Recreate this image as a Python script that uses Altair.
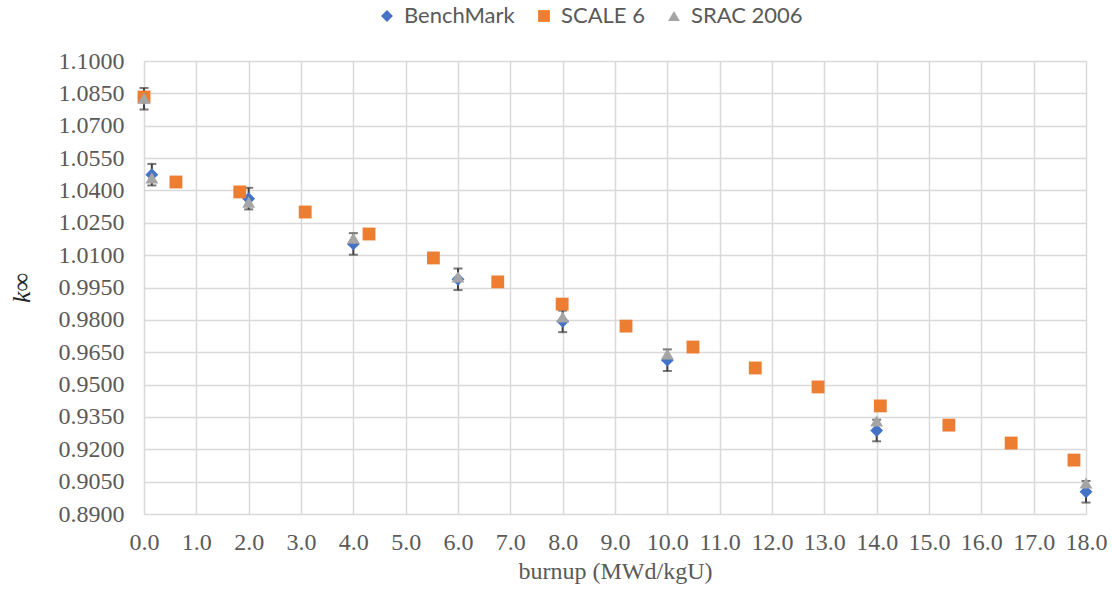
import altair as alt
import pandas as pd

# ---- data ----
bench_x = [0.0, 0.15, 2.0, 4.0, 6.0, 8.0, 10.0, 14.0, 18.0]
bench_y = [1.0825, 1.0473, 1.0362, 1.0152, 0.9988, 0.9793, 0.9613, 0.9287, 0.9003]
bench_err = [0.005, 0.005, 0.005, 0.005, 0.005, 0.005, 0.005, 0.005, 0.005]

scale_x = [0.0, 0.61, 1.83, 3.08, 4.30, 5.53, 6.76, 7.99, 9.21, 10.49, 11.68, 12.88, 14.07, 15.38, 16.57, 17.77]
scale_y = [1.0833, 1.0439, 1.0393, 1.0300, 1.0198, 1.0087, 0.9976, 0.9873, 0.9771, 0.9674, 0.9577, 0.9489, 0.9401, 0.9312, 0.9229, 0.9150]

srac_x = [0.0, 0.15, 2.0, 4.0, 6.0, 8.0, 10.0, 14.0, 18.0]
srac_y = [1.0828, 1.0458, 1.0346, 1.0179, 0.9999, 0.9813, 0.9642, 0.9331, 0.9044]

series_names = ["BenchMark", "SCALE 6", "SRAC 2006"]
series_colors = ["#4472C4", "#ED7D31", "#A5A5A5"]
series_shapes = ["diamond", "square", "triangle-up"]

x_ticks = [float(i) for i in range(0, 19)]
y_ticks = [round(0.89 + 0.015 * i, 4) for i in range(0, 15)]

# ---- tables ----
rows = []
for n, xs, ys in zip(series_names, [bench_x, scale_x, srac_x], [bench_y, scale_y, srac_y]):
    for i, (xv, yv) in enumerate(zip(xs, ys)):
        rows.append({"series": n, "x": xv, "y": yv, "order": series_names.index(n)})
pts = pd.DataFrame(rows)

err = pd.DataFrame({
    "x": bench_x,
    "lo": [y - e for y, e in zip(bench_y, bench_err)],
    "hi": [y + e for y, e in zip(bench_y, bench_err)],
})

serif = "Liberation Serif"
gray = "#595959"

xscale = alt.Scale(domain=[0, 18], nice=False, zero=False)
yscale = alt.Scale(domain=[0.89, 1.1], nice=False, zero=False)

xaxis = alt.Axis(values=x_ticks, tickCount=40, format=".1f", title="burnup (MWd/kgU)",
                 grid=True, gridColor="#D9D9D9", gridWidth=1.5,
                 domain=False, ticks=False, labelFont=serif, labelFontSize=24,
                 labelColor=gray, labelPadding=16, labelOverlap=False, labelFlush=False,
                 titleFont=serif, titleFontSize=24, titleFontWeight="normal",
                 titleColor=gray, titlePadding=5)
yaxis = alt.Axis(values=y_ticks, tickCount=40, format=".4f", title="k∞",
                 grid=True, gridColor="#D9D9D9", gridWidth=1.5,
                 domain=False, ticks=False, labelFont=serif, labelFontSize=24,
                 labelColor=gray, labelPadding=20, labelOverlap=False, labelFlush=False,
                 titleFont=serif, titleFontSize=26, titleFontStyle="italic",
                 titleFontWeight="normal", titleColor="#262626", titlePadding=24)

base_err = alt.Chart(err)
bars = base_err.mark_rule(color="#404040", strokeWidth=2).encode(
    x=alt.X("x:Q", scale=xscale, axis=xaxis),
    y=alt.Y("lo:Q", scale=yscale, axis=yaxis),
    y2="hi:Q",
)
cap_lo = base_err.mark_tick(color="#404040", thickness=2, size=9, orient="horizontal").encode(
    x=alt.X("x:Q", scale=xscale), y=alt.Y("lo:Q", scale=yscale))
cap_hi = base_err.mark_tick(color="#404040", thickness=2, size=9, orient="horizontal").encode(
    x=alt.X("x:Q", scale=xscale), y=alt.Y("hi:Q", scale=yscale))

points = alt.Chart(pts).mark_point(filled=True, opacity=1, size=165).encode(
    x=alt.X("x:Q", scale=xscale),
    y=alt.Y("y:Q", scale=yscale),
    color=alt.Color("series:N", scale=alt.Scale(domain=series_names, range=series_colors),
                    legend=alt.Legend(title=None, orient="none", direction="horizontal",
                                      legendX=232, legendY=-56,
                                      labelFont="Lato", labelFontSize=22,
                                      labelColor=gray, symbolSize=140,
                                      columnPadding=18, labelOffset=6)),
    shape=alt.Shape("series:N", scale=alt.Scale(domain=series_names, range=series_shapes)),
    order=alt.Order("order:Q"),
)

chart = alt.layer(bars, cap_lo, cap_hi, points).properties(
    width=942, height=453,
    autosize=alt.AutoSizeParams(type="none"),
    padding={"left": 144, "top": 61, "right": 26, "bottom": 79},
).configure_view(stroke=None).configure(background="white")

chart.save("out.html", embed_options={"renderer": "svg", "actions": False})
